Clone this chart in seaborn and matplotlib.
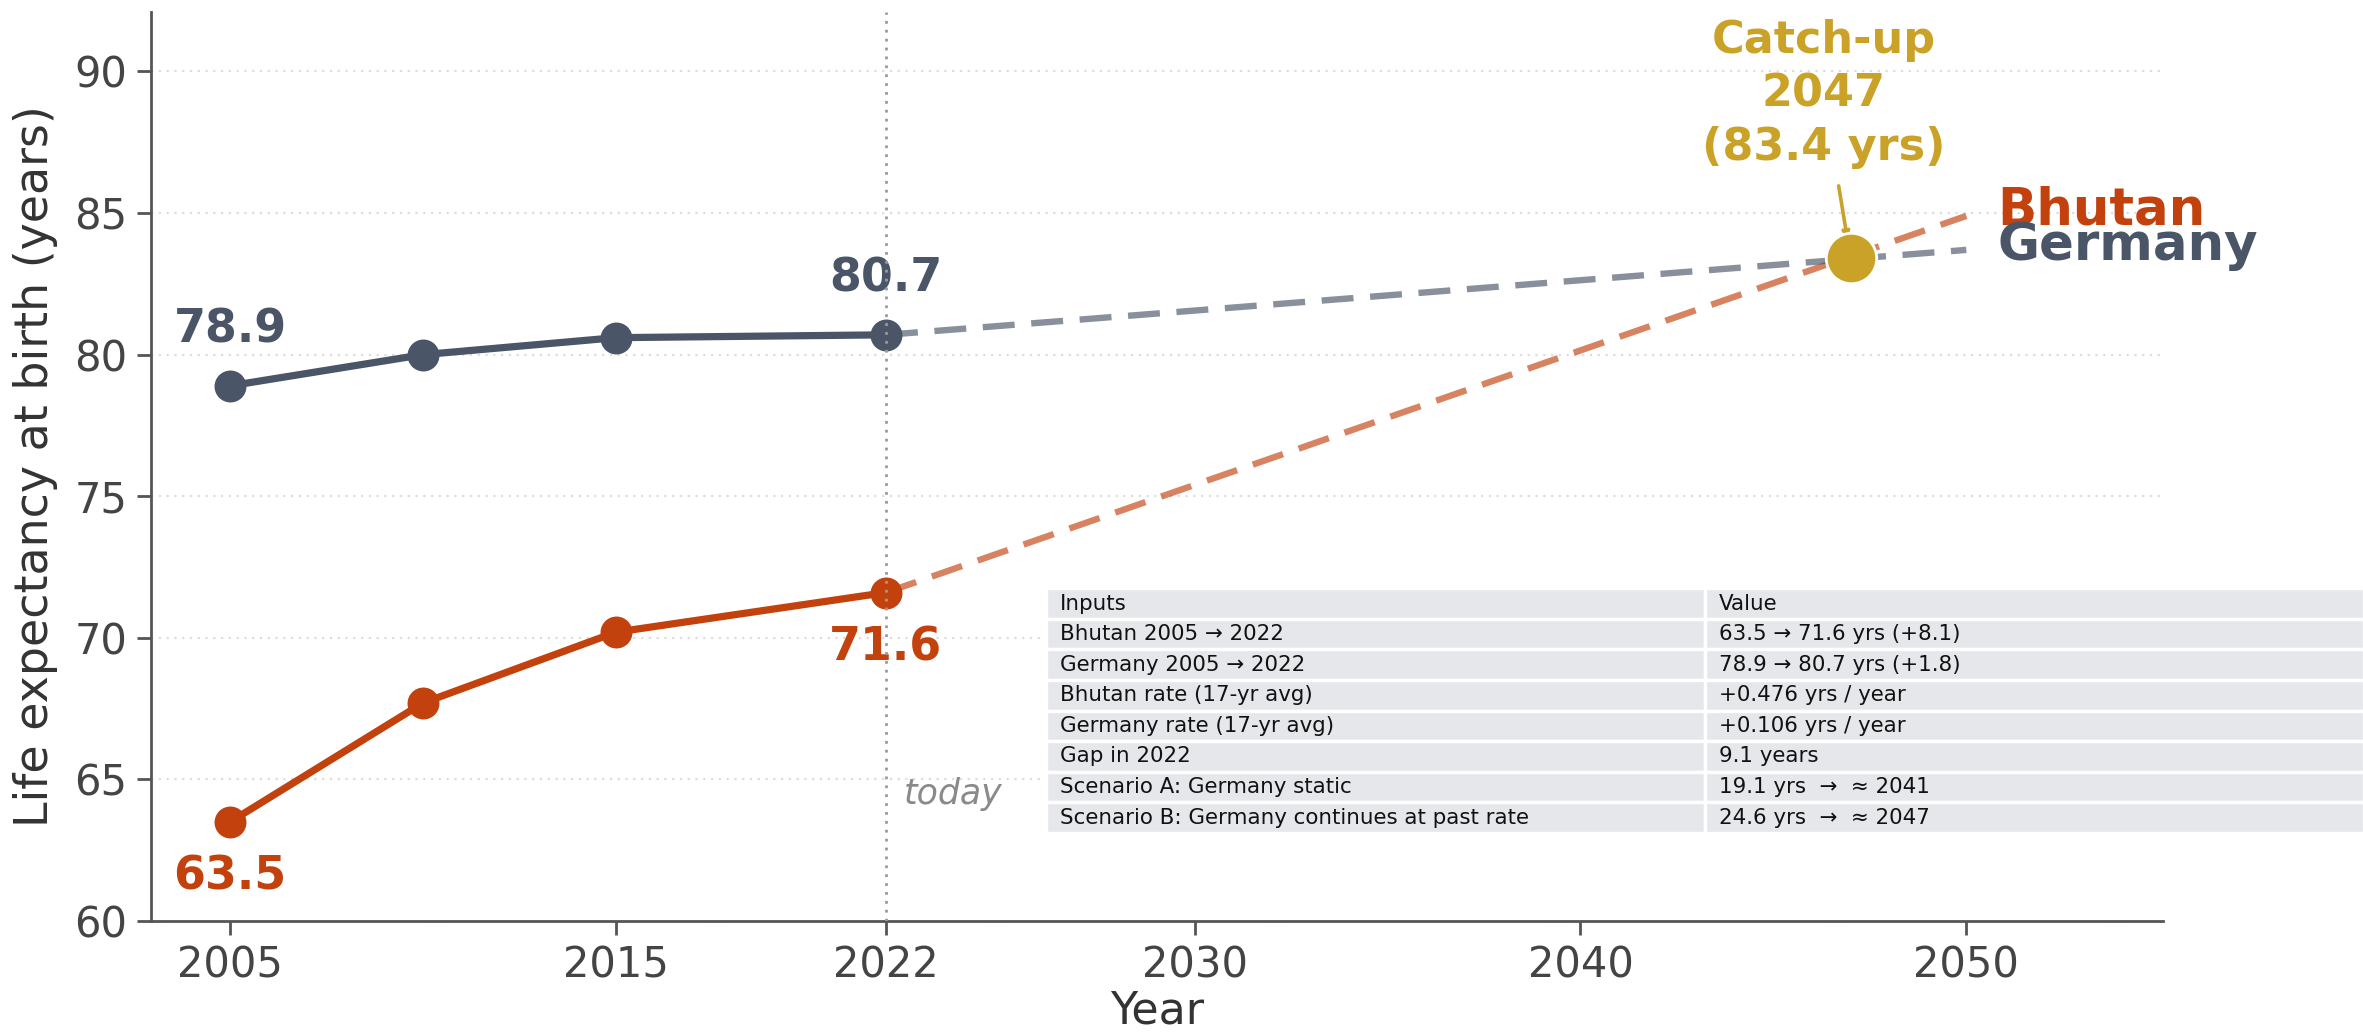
import matplotlib
matplotlib.use("Agg")
import matplotlib.pyplot as plt
import seaborn as sns
import pandas as pd

# Observed life expectancy at birth (years)
years = [2005, 2010, 2015, 2022]
bhutan = [63.5, 67.7, 70.2, 71.6]
germany = [78.9, 80.0, 80.6, 80.7]

# Linear projections from 2022 to 2050 at each country's 2005-2022 average rate
proj_years = [2022, 2050]
bhutan_proj = [71.6, 84.9]
germany_proj = [80.7, 83.7]

# Crossing point of the two projections
catch_year = 2047
catch_value = 83.4

# Summary table
table_inputs = [
    "Bhutan 2005 \u2192 2022",
    "Germany 2005 \u2192 2022",
    "Bhutan rate (17-yr avg)",
    "Germany rate (17-yr avg)",
    "Gap in 2022",
    "Scenario A: Germany static",
    "Scenario B: Germany continues at past rate",
]
table_values = [
    "63.5 \u2192 71.6 yrs (+8.1)",
    "78.9 \u2192 80.7 yrs (+1.8)",
    "+0.476 yrs / year",
    "+0.106 yrs / year",
    "9.1 years",
    "19.1 yrs  \u2192  \u2248 2041",
    "24.6 yrs  \u2192  \u2248 2047",
]

x_ticks = [2005, 2015, 2022, 2030, 2040, 2050]
y_ticks = [60, 65, 70, 75, 80, 85, 90]

C_BHUTAN = "#c2410c"
C_GERMANY = "#4a5568"
C_GOLD = "#c9a227"
C_AXIS = "#555555"

sns.set_theme(style="white")
plt.rcParams["font.family"] = ["DejaVu Sans"]

DPI = 200
fig = plt.figure(figsize=(2363 / DPI, 1036 / DPI), dpi=DPI)
ax = fig.add_axes([0.0639, 0.111, 0.9154 - 0.0639, 0.9884 - 0.111])

obs = pd.DataFrame({
    "Year": years * 2,
    "Life": bhutan + germany,
    "Country": ["Bhutan"] * len(years) + ["Germany"] * len(years),
})
proj = pd.DataFrame({
    "Year": proj_years * 2,
    "Life": bhutan_proj + germany_proj,
    "Country": ["Bhutan"] * 2 + ["Germany"] * 2,
})
palette = {"Bhutan": C_BHUTAN, "Germany": C_GERMANY}

# projections (dashed, faded)
sns.lineplot(data=proj, x="Year", y="Life", hue="Country", palette=palette,
             linewidth=2.3, alpha=0.65, legend=False, ax=ax, zorder=2)
for line in ax.get_lines():
    line.set_dashes((5, 2.6))

# observed series
sns.lineplot(data=obs, x="Year", y="Life", hue="Country", palette=palette,
             linewidth=2.6, marker="o", markersize=11.5, markeredgewidth=0,
             legend=False, ax=ax, zorder=3)

# catch-up point
sns.scatterplot(x=[catch_year], y=[catch_value], color=C_GOLD, s=330,
                edgecolor="white", linewidth=1.0, ax=ax, zorder=5, legend=False)
ax.annotate(f"Catch-up\n{catch_year}\n({catch_value} yrs)",
            xy=(catch_year, catch_value), xytext=(2046.3, 89.2),
            ha="center", va="center", fontsize=16, fontweight="bold",
            color=C_GOLD, linespacing=1.3,
            arrowprops=dict(arrowstyle="->", color=C_GOLD, lw=1.3,
                            shrinkA=4, shrinkB=7, mutation_scale=5))

# "today" marker
ax.axvline(2022, color="#9a9a9a", linestyle=(0, (1, 2.2)), linewidth=1.0, zorder=4)
ax.text(2022.45, 64.5, "today", fontsize=12.5, style="italic", color="#8a8a8a",
        ha="left", va="center")

# value labels at the ends of observed series
lbl = dict(fontsize=16.5, fontweight="bold", ha="center", va="center")
ax.annotate(f"{germany[0]}", (years[0], germany[0]), xytext=(0, 20),
            textcoords="offset points", color=C_GERMANY, **lbl)
ax.annotate(f"{germany[-1]}", (years[-1], germany[-1]), xytext=(0, 20),
            textcoords="offset points", color=C_GERMANY, **lbl)
ax.annotate(f"{bhutan[0]}", (years[0], bhutan[0]), xytext=(0, -20),
            textcoords="offset points", color=C_BHUTAN, **lbl)
ax.annotate(f"{bhutan[-1]}", (years[-1], bhutan[-1]), xytext=(0, -20),
            textcoords="offset points", color=C_BHUTAN, **lbl)

# series names at the projection ends
ax.text(2050.8, 85.1, "Bhutan", color=C_BHUTAN, fontsize=18.5,
        fontweight="bold", ha="left", va="center")
ax.text(2050.8, 83.85, "Germany", color=C_GERMANY, fontsize=18.5,
        fontweight="bold", ha="left", va="center")

# axes styling
ax.set_xlim(2002.95, 2055.1)
ax.set_ylim(60, 92.1)
ax.set_xticks(x_ticks)
ax.set_yticks(y_ticks)
ax.set_xlabel("Year", fontsize=16, color="#333333", labelpad=1)
ax.set_ylabel("Life expectancy at birth (years)", fontsize=16.5,
              color="#333333", labelpad=6)
ax.tick_params(axis="both", labelsize=15, colors=C_AXIS, length=5, width=1,
               bottom=True, left=True, labelcolor="#444444")
ax.yaxis.grid(True, linestyle=(0, (1, 2.5)), color="#dddddd", linewidth=0.8)
ax.xaxis.grid(False)
sns.despine(ax=ax)
for side in ("left", "bottom"):
    ax.spines[side].set_color(C_AXIS)
    ax.spines[side].set_linewidth(1.0)

# summary table
cells = [["Inputs", "Value"]] + [[a, b] for a, b in zip(table_inputs, table_values)]
tbl = ax.table(cellText=cells, cellLoc="left", colWidths=[0.3275, 0.3275],
               bbox=[0.445, 0.097, 0.655, 0.269])
tbl.auto_set_font_size(False)
tbl.set_fontsize(7.7)
tbl.set_zorder(6)
for (r, c), cell in tbl.get_celld().items():
    cell.set_facecolor("#e5e7eb")
    cell.set_edgecolor("white")
    cell.set_linewidth(1.2)
    cell.get_text().set_color("#111111")
    cell.PAD = 0.02
tbl.set_clip_on(False)

fig.savefig("out.png", dpi=DPI)
